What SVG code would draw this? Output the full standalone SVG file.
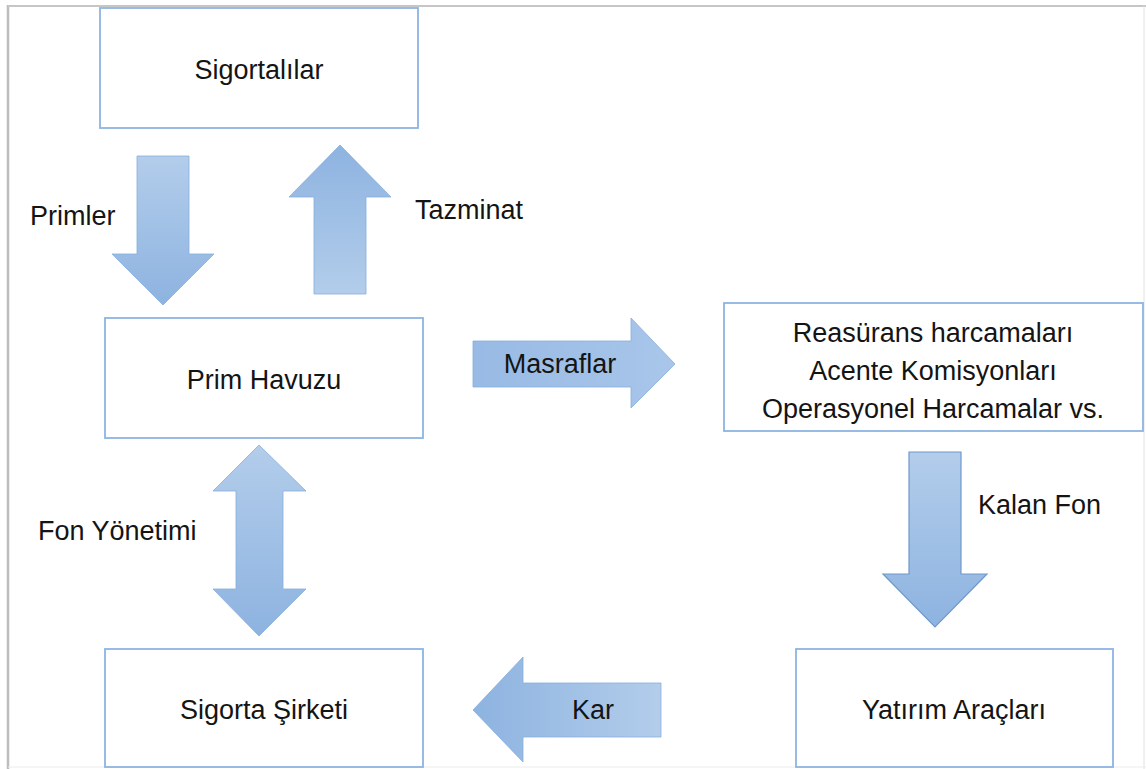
<svg xmlns="http://www.w3.org/2000/svg" width="1146" height="769" viewBox="0 0 1146 769">
<defs>
<linearGradient id="gDown" x1="0" y1="0" x2="0" y2="1"><stop offset="0" stop-color="#b3cdeb"/><stop offset="1" stop-color="#8db3e0"/></linearGradient>
<linearGradient id="gUp" x1="0" y1="1" x2="0" y2="0"><stop offset="0" stop-color="#b3cdeb"/><stop offset="1" stop-color="#8db3e0"/></linearGradient>
<linearGradient id="gLeft" x1="1" y1="0" x2="0" y2="0"><stop offset="0" stop-color="#b3cdeb"/><stop offset="1" stop-color="#8db3e0"/></linearGradient>
<linearGradient id="gRight" x1="0" y1="0" x2="1" y2="0"><stop offset="0" stop-color="#98bae4"/><stop offset="1" stop-color="#a9c6ea"/></linearGradient>
<style>
.box{fill:#fff;stroke:#8db4e2;stroke-width:1.8}
.t{font-family:"Liberation Sans",Arial,sans-serif;font-size:27px;fill:#141414}
.c{text-anchor:middle}
.arr{stroke:#86aedd;stroke-width:0.8}
.arr2{stroke:#6f98cc;stroke-width:1.2}
</style>
</defs>
<rect width="1146" height="769" fill="#fff"/>
<g id="frame" fill="none">
<line x1="8" y1="5" x2="8" y2="769" stroke="#bdbdbd" stroke-width="2.5"/>
<line x1="8" y1="6" x2="1146" y2="6" stroke="#c6c6c6" stroke-width="2"/>
<line x1="1144" y1="6" x2="1144" y2="769" stroke="#e2e2e2" stroke-width="1"/>
<line x1="8" y1="767" x2="1146" y2="767" stroke="#ececec" stroke-width="1"/>
</g>
<g id="connectors">
<g id="primler-arrow"><path class="arr" fill="url(#gDown)" d="M137,156 H189 V254 H214 L163,305 L112,254 H137 Z"/><text class="t" x="30" y="225">Primler</text></g>
<g id="tazminat-arrow"><path class="arr" fill="url(#gUp)" d="M340,145 L391,197 H366 V294 H314 V197 H289 Z"/><text class="t" x="415" y="219">Tazminat</text></g>
<g id="masraflar-arrow"><path class="arr" fill="url(#gRight)" d="M473,341 H631 V318 L675,364 L631,408 V387 H473 Z"/><text class="t c" x="560" y="373">Masraflar</text></g>
<g id="fon-arrow"><path class="arr" fill="url(#gDown)" d="M259,445 L306,491 H283 V589 H306 L259,636 L213,589 H236 V491 H213 Z"/><text class="t" x="38" y="540">Fon Yönetimi</text></g>
<g id="kalanfon-arrow"><path class="arr2" fill="url(#gDown)" d="M909,452 H961 V574 H987 L935,627 L883,574 H909 Z"/><text class="t" x="978" y="514">Kalan Fon</text></g>
<g id="kar-arrow"><path class="arr" fill="url(#gLeft)" d="M473,710 L523,657 V683 H661 V737 H523 V762 Z"/><text class="t c" x="593" y="719">Kar</text></g>
</g>
<g id="sigortalilar"><rect class="box" x="100" y="8" width="318" height="120"/><text class="t c" x="259" y="79">Sigortalılar</text></g>
<g id="prim-havuzu"><rect class="box" x="105" y="318" width="318" height="120"/><text class="t c" x="264" y="389">Prim Havuzu</text></g>
<g id="masraf-kalemleri"><rect class="box" x="724" y="303" width="419" height="128"/>
<text class="t c" x="933" y="342">Reasürans harcamaları</text>
<text class="t c" x="933" y="380">Acente Komisyonları</text>
<text class="t c" x="933" y="418">Operasyonel Harcamalar vs.</text></g>
<g id="sigorta-sirketi"><rect class="box" x="105" y="649" width="318" height="118"/><text class="t c" x="264" y="719">Sigorta Şirketi</text></g>
<g id="yatirim-araclari"><rect class="box" x="796" y="649" width="317" height="118"/><text class="t c" x="954" y="719">Yatırım Araçları</text></g>
</svg>
